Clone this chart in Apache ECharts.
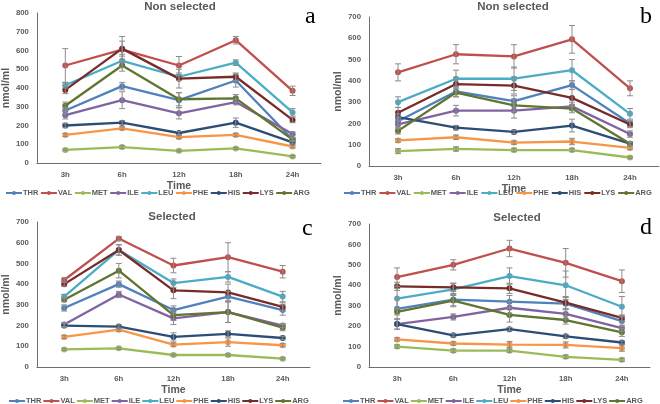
<!DOCTYPE html>
<html><head><meta charset="utf-8">
<script src="https://cdn.jsdelivr.net/npm/echarts@6/dist/echarts.min.js"></script>
<style>html,body{margin:0;padding:0;background:#fff}#c{width:660px;height:404px}</style>
</head><body><div id="c"></div>
<script>
const times = ['3h','6h','12h','18h','24h'];
const acids = ['THR','VAL','MET','ILE','LEU','PHE','HIS','LYS','ARG'];
const colors = ['#4f81bd','#c0504d','#9bbb59','#8064a2','#4bacc6','#f79646','#2c4d75','#772c2a','#5f7530'];

// Panel a: Non selected
const valuesA = [
  [280,410,335,440,125],
  [520,605,520,655,385],
  [70,85,65,78,35],
  [255,335,265,325,155],
  [415,545,460,535,270],
  [150,185,138,150,88],
  [200,215,160,215,110],
  [390,610,450,460,230],
  [305,520,340,345,125]
];
const errorsA = [
  [15,20,40,35,10],
  [90,70,48,20,25],
  [5,8,5,5,5],
  [20,45,30,15,10],
  [15,35,20,15,20],
  [8,8,8,8,8],
  [12,10,8,25,8],
  [20,40,50,20,15],
  [20,30,35,20,10]
];
// Panel b: Non selected
const valuesB = [
  [210,350,305,380,200],
  [440,525,515,595,365],
  [70,80,75,75,40],
  [195,260,260,280,150],
  [300,410,410,450,245],
  [120,135,110,115,85],
  [230,180,160,190,105],
  [250,385,378,320,195],
  [165,345,285,270,105]
];
const errorsB = [
  [20,25,25,20,15],
  [40,45,55,65,35],
  [12,10,8,8,5],
  [20,25,35,20,15],
  [25,40,55,50,25],
  [8,10,8,15,8],
  [15,10,8,30,8],
  [25,30,40,40,15],
  [15,20,30,20,10]
];
// Panel c: Selected
const valuesC = [
  [285,400,275,340,275],
  [420,620,490,530,460],
  [85,90,58,58,40],
  [205,350,235,265,200],
  [340,565,405,435,340],
  [145,180,108,120,105],
  [200,195,145,160,140],
  [400,565,370,360,290],
  [325,465,250,265,190]
];
const errorsC = [
  [15,15,20,25,25],
  [10,10,35,70,30],
  [5,5,5,5,5],
  [10,15,30,50,10],
  [10,25,20,25,25],
  [8,8,8,20,8],
  [10,8,20,15,8],
  [10,25,40,40,20],
  [10,35,25,50,15]
];
// Panel d: Selected
const valuesD = [
  [285,330,320,310,225],
  [440,500,580,510,420],
  [100,80,80,50,35],
  [210,245,290,260,190],
  [335,380,445,400,295],
  [135,115,110,108,92],
  [210,155,185,150,120],
  [395,390,385,315,240],
  [270,325,255,230,170]
];
const errorsD = [
  [50,30,30,30,25],
  [45,25,40,70,55],
  [8,8,8,8,8],
  [25,15,30,25,15],
  [50,30,40,70,50],
  [8,8,15,15,15],
  [25,8,8,8,8],
  [20,20,25,30,15],
  [15,30,35,20,20]
];
const yMax = [800,700,700,700];
const panelTitles = ['Non selected','Non selected','Selected','Selected'];
const panelLetters = ['a','b','c','d'];

const panels = [
  {v:valuesA,e:errorsA,grid:{left:31,top:13,width:290,height:150},title:[175,-4],letter:[300,0],legend:[5,189,1.5]},
  {v:valuesB,e:errorsB,grid:{left:369,top:17,width:290,height:149},title:[508,-4],letter:[635,0],legend:[343,189,2]},
  {v:valuesC,e:errorsC,grid:{left:32,top:222,width:278,height:145},title:[167,206],letter:[297,212],legend:[8,397,1]},
  {v:valuesD,e:errorsD,grid:{left:369,top:224,width:281,height:143},title:[512,207],letter:[635,211],legend:[342,397,1]}
];
const txt = '#595959';
const axisColor = '#6f6f6f';
const sans = 'Liberation Sans';

const option = {
  animation:false,
  backgroundColor:'#fff',
  title:[], grid:[], xAxis:[], yAxis:[], legend:[], series:[]
};

panels.forEach((p,i)=>{
  option.grid.push(p.grid);
  option.title.push({text:panelTitles[i],left:p.title[0],top:p.title[1],textAlign:'center',
    textStyle:{fontFamily:sans,fontSize:11.5,fontWeight:'bold',color:txt}});
  option.title.push({text:panelLetters[i],left:p.letter[0],top:p.letter[1],
    textStyle:{fontFamily:'Liberation Serif',fontSize:24,fontWeight:'normal',color:'#000'}});
  option.xAxis.push({type:'category',gridIndex:i,data:times,boundaryGap:true,
    name:'Time',nameLocation:'middle',nameGap:18,
    nameTextStyle:{fontFamily:sans,fontSize:10.5,fontWeight:'bold',color:txt},
    axisLine:{lineStyle:{color:axisColor,width:1}},axisTick:{show:false},
    axisLabel:{fontFamily:sans,fontSize:7.8,fontWeight:'bold',color:txt,margin:8}});
  option.yAxis.push({type:'value',gridIndex:i,min:0,max:yMax[i],interval:100,
    name:'nmol/ml',nameLocation:'middle',nameGap:22,
    nameTextStyle:{fontFamily:sans,fontSize:10.5,fontWeight:'bold',color:txt},
    axisLine:{show:true,lineStyle:{color:axisColor,width:1}},axisTick:{show:false},splitLine:{show:false},
    axisLabel:{fontFamily:sans,fontSize:7.8,fontWeight:'bold',color:txt,margin:8}});
  option.legend.push({data:acids,left:p.legend[0],top:p.legend[1],width:330,
    orient:'horizontal',itemGap:p.legend[2],itemWidth:16,itemHeight:5,
    textStyle:{fontFamily:sans,fontSize:7.5,fontWeight:'bold',color:txt,padding:[0,0,0,-4]},
    padding:0});
  acids.forEach((a,k)=>{
    option.series.push({type:'line',name:a,xAxisIndex:i,yAxisIndex:i,data:p.v[k],
      symbol:'circle',symbolSize:6,color:colors[k],lineStyle:{width:2.3,color:colors[k]},
      itemStyle:{color:colors[k]},z:2});
  });
  const errData=[];
  acids.forEach((a,k)=>{ p.v[k].forEach((val,j)=>errData.push([j,val,p.e[k][j]])); });
  option.series.push({type:'custom',xAxisIndex:i,yAxisIndex:i,data:errData,z:3,silent:true,
    renderItem:function(params,api){
      const x=api.value(0),y=api.value(1),e=api.value(2);
      const hi=api.coord([x,y+e]),lo=api.coord([x,y-e]);
      const w=3;
      const st={stroke:'#8c8c8c',lineWidth:1};
      return {type:'group',children:[
        {type:'line',shape:{x1:hi[0],y1:hi[1],x2:lo[0],y2:lo[1]},style:st},
        {type:'line',shape:{x1:hi[0]-w,y1:hi[1],x2:hi[0]+w,y2:hi[1]},style:st},
        {type:'line',shape:{x1:lo[0]-w,y1:lo[1],x2:lo[0]+w,y2:lo[1]},style:st}
      ]};
    }});
});

const chart = echarts.init(document.getElementById('c'),null,{renderer:'canvas'});
chart.setOption(option);
</script></body></html>
